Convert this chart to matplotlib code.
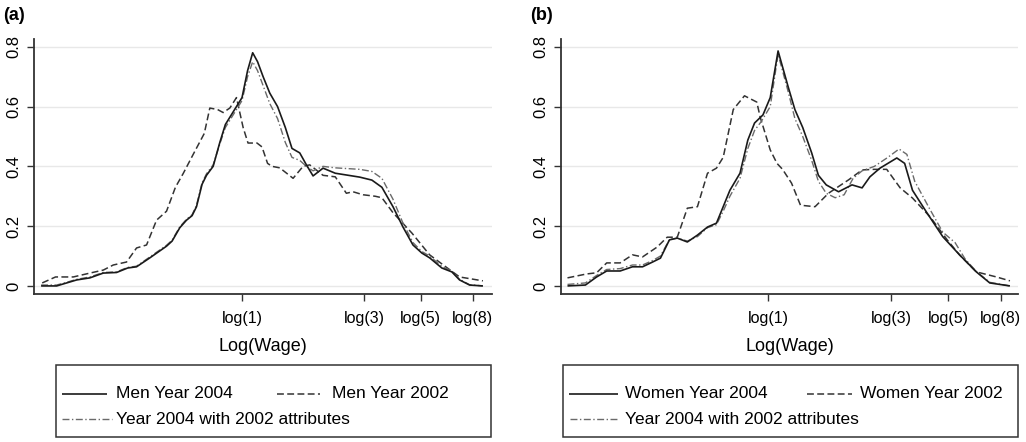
import numpy as np
import matplotlib.pyplot as plt
from matplotlib.patches import Rectangle

plt.rcParams['font.family'] = ['Liberation Sans', 'DejaVu Sans']

# -----------------------------
# data (x = log wage, y = density)
# -----------------------------
# panel (a) men
men04_x = [-1.81, -1.67, -1.58, -1.49, -1.37, -1.25, -1.13, -1.03, -0.95, -0.83,
           -0.68, -0.63, -0.56, -0.50, -0.45, -0.41, -0.36, -0.32, -0.26, -0.20,
           -0.15, -0.05, 0.0, 0.05, 0.096, 0.14, 0.19, 0.25, 0.32, 0.39,
           0.45, 0.52, 0.58, 0.64, 0.73, 0.84, 1.06, 1.17, 1.26, 1.36,
           1.45, 1.54, 1.62, 1.69, 1.80, 1.89, 1.96, 2.05, 2.17]
men04_y = [0, 0, 0.01, 0.02, 0.027, 0.043, 0.045, 0.06, 0.064, 0.094,
           0.133, 0.15, 0.195, 0.22, 0.235, 0.265, 0.34, 0.37, 0.40, 0.48,
           0.54, 0.60, 0.63, 0.72, 0.78, 0.75, 0.70, 0.645, 0.60, 0.53,
           0.46, 0.445, 0.405, 0.368, 0.394, 0.377, 0.364, 0.354, 0.33, 0.265,
           0.197, 0.137, 0.11, 0.094, 0.06, 0.047, 0.02, 0.003, 0]
men_cf_y = [0.003, 0.003, 0.012, 0.022, 0.03, 0.045, 0.047, 0.062, 0.066, 0.097,
            0.136, 0.153, 0.198, 0.223, 0.238, 0.27, 0.345, 0.375, 0.405, 0.475,
            0.53, 0.59, 0.62, 0.70, 0.75, 0.72, 0.67, 0.61, 0.56, 0.48,
            0.43, 0.42, 0.40, 0.385, 0.40, 0.395, 0.39, 0.383, 0.36, 0.29,
            0.21, 0.145, 0.115, 0.10, 0.065, 0.05, 0.022, 0.004, 0]
men02_x = [-1.80, -1.68, -1.52, -1.37, -1.25, -1.16, -1.04, -0.95, -0.86, -0.77,
           -0.68, -0.60, -0.53, -0.44, -0.34, -0.29, -0.22, -0.17, -0.11, -0.05,
           0.01, 0.054, 0.135, 0.18, 0.23, 0.27, 0.34, 0.46, 0.55, 0.61,
           0.73, 0.84, 0.94, 1.0, 1.09, 1.2, 1.26, 1.36, 1.53, 1.69,
           1.85, 1.96, 2.17]
men02_y = [0.01, 0.03, 0.03, 0.043, 0.053, 0.07, 0.08, 0.127, 0.137, 0.22,
           0.25, 0.33, 0.376, 0.44, 0.51, 0.595, 0.59, 0.58, 0.595, 0.63,
           0.53, 0.478, 0.478, 0.465, 0.41, 0.40, 0.395, 0.36, 0.40, 0.405,
           0.37, 0.365, 0.31, 0.315, 0.305, 0.30, 0.295, 0.245, 0.177, 0.104,
           0.06, 0.03, 0.017]

# panel (b) women
wom04_x = [-1.79, -1.63, -1.53, -1.44, -1.32, -1.21, -1.12, -1.03, -0.96, -0.88,
           -0.81, -0.72, -0.63, -0.54, -0.46, -0.40, -0.34, -0.25, -0.18, -0.12,
           -0.045, 0.02, 0.09, 0.18, 0.24, 0.31, 0.39, 0.45, 0.52, 0.63,
           0.75, 0.84, 0.91, 1.0, 1.15, 1.22, 1.29, 1.42, 1.56, 1.71,
           1.86, 1.98, 2.16]
wom04_y = [0, 0.003, 0.03, 0.05, 0.05, 0.064, 0.064, 0.08, 0.093, 0.154,
           0.16, 0.147, 0.17, 0.197, 0.21, 0.265, 0.32, 0.377, 0.488, 0.545,
           0.572, 0.63, 0.786, 0.666, 0.59, 0.53, 0.445, 0.37, 0.338, 0.315,
           0.338, 0.328, 0.365, 0.394, 0.428, 0.41, 0.32, 0.244, 0.165, 0.104,
           0.047, 0.01, 0]
wom_cf_x = [-1.79, -1.63, -1.53, -1.44, -1.32, -1.21, -1.12, -1.03, -0.96, -0.88,
            -0.81, -0.72, -0.63, -0.54, -0.46, -0.40, -0.34, -0.25, -0.18, -0.12,
            -0.06, 0.02, 0.09, 0.18, 0.24, 0.31, 0.39, 0.45, 0.52, 0.60,
            0.68, 0.76, 0.84, 0.95, 1.07, 1.17, 1.24, 1.31, 1.44, 1.56,
            1.67, 1.76, 1.86, 1.98, 2.16]
wom_cf_y = [0.005, 0.01, 0.035, 0.055, 0.058, 0.07, 0.07, 0.085, 0.1, 0.155,
            0.16, 0.15, 0.165, 0.195, 0.205, 0.25, 0.30, 0.36, 0.46, 0.52,
            0.55, 0.60, 0.775, 0.65, 0.56, 0.50, 0.42, 0.35, 0.31, 0.295,
            0.305, 0.36, 0.385, 0.40, 0.43, 0.458, 0.44, 0.35, 0.26, 0.18,
            0.145, 0.09, 0.048, 0.012, 0]
wom02_x = [-1.79, -1.62, -1.53, -1.44, -1.32, -1.21, -1.12, -0.99, -0.90, -0.81,
           -0.72, -0.63, -0.54, -0.46, -0.40, -0.31, -0.21, -0.10, -0.07, 0.02,
           0.08, 0.13, 0.21, 0.29, 0.42, 0.54, 0.62, 0.72, 0.84, 0.95,
           1.06, 1.18, 1.29, 1.45, 1.60, 1.71, 1.86, 2.04, 2.16]
wom02_y = [0.027, 0.04, 0.044, 0.077, 0.077, 0.104, 0.097, 0.13, 0.163, 0.163,
           0.26, 0.265, 0.377, 0.394, 0.43, 0.59, 0.636, 0.615, 0.565, 0.455,
           0.41, 0.39, 0.344, 0.27, 0.265, 0.31, 0.33, 0.355, 0.388, 0.39,
           0.39, 0.328, 0.294, 0.23, 0.154, 0.104, 0.047, 0.03, 0.017]

wage_ticks = [1, 3, 5, 8]
wage_labels = ["log(1)", "log(3)", "log(5)", "log(8)"]
dens_ticks = [0, 0.2, 0.4, 0.6, 0.8]
dens_labels = ["0", "0.2", "0.4", "0.6", "0.8"]

legend_a = ["Men Year 2004", "Men Year 2002", "Year 2004 with 2002 attributes"]
legend_b = ["Women Year 2004", "Women Year 2002", "Year 2004 with 2002 attributes"]

# -----------------------------
# styles
# -----------------------------
JOIN = dict(solid_joinstyle="round", dash_joinstyle="round", solid_capstyle="butt")
SOLID = dict(color="#1a1a1a", lw=1.2, ls="-", **JOIN)
DASHED = dict(color="#333333", lw=1.1, ls=(0, (4.5, 2.2)), **JOIN)
DASHDOT = dict(color="#6a6a6a", lw=1.0, ls=(0, (5, 1.8, 1, 1.8)), **JOIN)
AXCOL = "#333333"

W, H = 1026, 442
fig = plt.figure(figsize=(W / 100, H / 100), dpi=100)


def panel(left_px, right_px, xlim, curves):
    rect = [left_px / W, (H - 294) / H, (right_px - left_px) / W, 255 / H]
    ax = fig.add_axes(rect)
    for (x, y, style) in curves:
        ax.plot(x, y, **style)
    ax.set_xlim(*xlim)
    ax.set_ylim(-0.027, 0.826)
    ax.set_xticks(np.log(wage_ticks))
    ax.set_xticklabels(wage_labels, fontsize=11.5)
    ax.set_yticks(dens_ticks)
    ax.set_yticklabels(dens_labels, fontsize=12, rotation=90, va="center")
    ax.yaxis.grid(True, color="#e8e8e8", lw=1)
    ax.set_axisbelow(True)
    for s in ["top", "right"]:
        ax.spines[s].set_visible(False)
    for s in ["left", "bottom"]:
        ax.spines[s].set_color(AXCOL)
        ax.spines[s].set_linewidth(1.3)
    ax.tick_params(axis="x", length=5, width=1, color=AXCOL, pad=7)
    ax.tick_params(axis="y", length=5, width=1, color=AXCOL, pad=4)
    ax.set_xlabel("Log(Wage)", fontsize=13, labelpad=9)
    return ax


ax_a = panel(34, 492, (-1.874, 2.252),
             [(men02_x, men02_y, DASHED), (men04_x, men_cf_y, DASHDOT),
              (men04_x, men04_y, SOLID)])
ax_b = panel(561, 1018, (-1.848, 2.232),
             [(wom02_x, wom02_y, DASHED), (wom_cf_x, wom_cf_y, DASHDOT),
              (wom04_x, wom04_y, SOLID)])

# overlay in pixel coordinates for panel tags and the boxed legends
ov = fig.add_axes([0, 0, 1, 1])
ov.set_xlim(0, W)
ov.set_ylim(H, 0)
ov.axis("off")
ov.patch.set_alpha(0)

ov.text(3, 16, "(a)", fontsize=13, fontweight="bold", va="center", ha="left")
ov.text(530, 16, "(b)", fontsize=13, fontweight="bold", va="center", ha="left")


def legend_box(x0, x1, labels, h1, h2, h3):
    ov.add_patch(Rectangle((x0, 365), x1 - x0, 72, fill=False, ec=AXCOL, lw=1.1))
    (a0, a1, t1), (b0, b1, t2), (c0, c1, t3) = h1, h2, h3
    ov.plot([a0, a1], [394, 394], **SOLID)
    ov.text(t1, 394, labels[0], fontsize=12.5, va="center")
    ov.plot([b0, b1], [394, 394], **DASHED)
    ov.text(t2, 394, labels[1], fontsize=12.5, va="center")
    ov.plot([c0, c1], [419, 419], **DASHDOT)
    ov.text(t3, 419, labels[2], fontsize=12.5, va="center")


legend_box(56, 491, legend_a, (62, 107, 116), (277, 320, 332), (62, 112, 116))
legend_box(563, 1018, legend_b, (569, 618, 625), (807, 852, 860), (570, 618, 625))

fig.savefig("out.png", dpi=100)
